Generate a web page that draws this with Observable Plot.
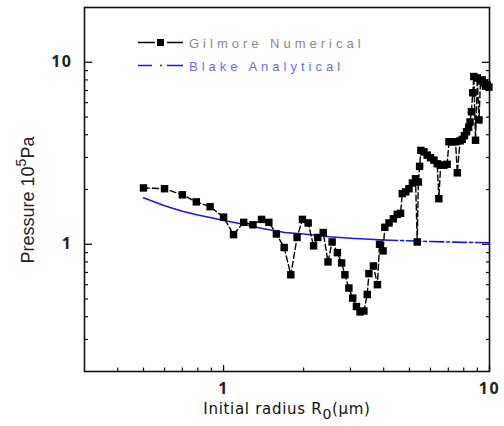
<!DOCTYPE html>
<html><head><meta charset="utf-8">
<script src="https://cdn.jsdelivr.net/npm/d3@7"></script>
<script src="https://cdn.jsdelivr.net/npm/@observablehq/plot@0.6"></script>
<style>
body{margin:0;background:#fff;}
#wrap{position:relative;width:504px;height:426px;overflow:hidden;font-family:Arial,"Liberation Sans",sans-serif;}
#wrap svg.plot{position:absolute;left:0;top:0;}
.xlab{position:absolute;left:0;width:574px;top:400px;text-align:center;font-family:"DejaVu Sans",sans-serif;font-size:15px;color:#111;letter-spacing:0.7px;white-space:nowrap;}
.ylab{position:absolute;left:28px;top:200px;transform:translate(-50%,-50%) rotate(-90deg);font-family:Arial,"Liberation Sans",sans-serif;font-size:18px;color:#222;white-space:nowrap;transform-origin:center;}
.ylab sup{font-size:14px;vertical-align:8px;line-height:0;}
.xlab sub{font-size:14px;vertical-align:-5px;line-height:0;}
.legend{position:absolute;left:0;top:0;}
</style></head><body><div id="wrap"></div>
<script>
// Gilmore numerical (squares, dashed line)
const gilmoreR = [0.50,0.60,0.70,0.79,0.89,1.00,1.09,1.19,1.29,1.39,1.48,1.58,1.69,1.79,1.89,1.98,2.08,2.18,2.26,2.37,2.47,2.56,2.68,2.78,2.86,2.96,3.06,3.16,3.26,3.37,3.47,3.52,3.66,3.79,3.86,3.98,4.04,4.19,4.35,4.50,4.63,4.70,4.84,4.98,5.13,5.27,5.35,5.40,5.46,5.52,5.67,5.83,6.00,6.18,6.36,6.45,6.55,6.73,6.93,7.04,7.25,7.45,7.57,7.75,7.90,8.05,8.20,8.35,8.45,8.55,8.65,8.73,8.86,9.00,9.13,9.25,9.39,9.55,9.66,9.80,9.95];
const gilmoreP = [2.04,2.02,1.87,1.71,1.61,1.41,1.13,1.32,1.28,1.37,1.32,1.14,0.96,0.68,1.09,1.37,1.31,0.98,1.09,1.16,0.80,1.03,0.90,0.79,0.68,0.575,0.506,0.455,0.425,0.43,0.53,0.69,0.76,0.60,1.00,0.92,1.24,1.31,1.38,1.46,1.48,1.90,1.94,2.02,2.17,2.29,1.03,2.20,2.68,3.28,3.22,3.09,2.99,2.90,2.77,1.78,2.72,2.72,2.75,3.66,3.66,3.66,2.47,3.70,3.77,3.95,4.15,4.40,4.70,5.35,6.80,8.35,3.73,8.20,4.82,7.90,8.00,7.70,7.40,7.50,7.30];
// Blake analytical (blue line)
const blakeR = [0.5,0.6,0.7,0.8,0.9,1.0,1.15,1.4,1.7,2.0,2.5,3.0,4.0,5.0,6.0,8.0,10.0];
const blakeP = [1.80,1.63,1.52,1.45,1.40,1.35,1.30,1.22,1.16,1.14,1.10,1.08,1.055,1.045,1.035,1.025,1.02];
// ticks
const xMajor = [1,10];
const xMinor = [0.4,0.5,0.6,0.7,0.8,0.9,2,3,4,5,6,7,8,9];
const yMajor = [1,10];
const yMinor = [0.3,0.4,0.5,0.6,0.7,0.8,0.9,2,3,4,5,6,7,8,9];
const xDomain = [0.3,10];
const yDomain = [0.2,20];
const blakeSplit = 4;

const gilmore = gilmoreR.map((r,i)=>({r, p:gilmoreP[i]}));
const blake = blakeR.map((r,i)=>({r, p:blakeP[i]}));

const axisCol = "#111";
const chart = Plot.plot({
  width:504, height:426,
  marginLeft:84, marginRight:15, marginTop:7, marginBottom:55,
  x:{type:"log", domain:xDomain},
  y:{type:"log", domain:yDomain},
  style:{background:"transparent", overflow:"visible"},
  marks:[
    Plot.axisX(xMajor,{anchor:"bottom", tickSize:-6, fill:"none", stroke:axisCol, strokeWidth:1.3, label:null}),
    Plot.axisX(xMinor,{anchor:"bottom", tickSize:-3.5, fill:"none", stroke:axisCol, strokeWidth:1.2, label:null}),
    Plot.axisX(xMajor,{anchor:"bottom", tickSize:0, stroke:"none", tickPadding:11, tickFormat:d=>String(d), fill:"#222", fontSize:16, fontWeight:"bold", label:null}),
    Plot.axisY(yMajor,{anchor:"left", tickSize:-8, fill:"none", stroke:axisCol, strokeWidth:1.3, label:null}),
    Plot.axisY(yMinor,{anchor:"left", tickSize:-4, fill:"none", stroke:axisCol, strokeWidth:1.2, label:null}),
    Plot.axisY(yMajor,{anchor:"right", tickSize:-8, fill:"none", stroke:axisCol, strokeWidth:1.3, label:null}),
    Plot.axisY(yMinor,{anchor:"right", tickSize:-4, fill:"none", stroke:axisCol, strokeWidth:1.2, label:null}),
    Plot.axisY(yMajor,{anchor:"left", tickSize:0, stroke:"none", tickPadding:12, tickFormat:d=>String(d), fill:"#222", fontSize:16, fontWeight:"bold", label:null}),
    Plot.line(blake.filter(d=>d.r<=blakeSplit),{x:"r", y:"p", stroke:"#1515ff", strokeWidth:1.6}),
    Plot.line(blake.filter(d=>d.r>=blakeSplit),{x:"r", y:"p", stroke:"#1515ff", strokeWidth:1.6, strokeDasharray:"14,3,3,3"}),
    Plot.line(gilmore,{x:"r", y:"p", stroke:"#000", strokeWidth:1.4, strokeDasharray:"6,3"}),
    Plot.dot(gilmore,{x:"r", y:"p", symbol:"square", r:4.2, fill:"#000", stroke:"none"}),
    Plot.frame({stroke:axisCol, strokeWidth:1.6})
  ]
});
chart.classList.add("plot");
const wrap = document.getElementById("wrap");
wrap.appendChild(chart);
chart.querySelectorAll('g[aria-label="x-axis tick label"] text, g[aria-label="y-axis tick label"] text').forEach(t=>t.setAttribute("letter-spacing","1.5"));

// axis titles
const xl = document.createElement("div");
xl.className="xlab";
xl.innerHTML = "Initial radius R<sub>0</sub>(&mu;m)";
wrap.appendChild(xl);
const yl = document.createElement("div");
yl.className="ylab";
yl.innerHTML = "Pressure 10<sup>5</sup>Pa";
wrap.appendChild(yl);

// legend
const ns="http://www.w3.org/2000/svg";
const lg = document.createElementNS(ns,"svg");
lg.setAttribute("class","legend");
lg.setAttribute("width","504"); lg.setAttribute("height","426");
lg.innerHTML = `
<line x1="138" y1="42.5" x2="155" y2="42.5" stroke="#000" stroke-width="1.5"/>
<rect x="157" y="39" width="7" height="7" fill="#000"/>
<line x1="167" y1="42.5" x2="183" y2="42.5" stroke="#000" stroke-width="1.5"/>
<text x="189" y="47.5" font-family="Arial, Liberation Sans, sans-serif" font-size="13" letter-spacing="4" fill="#8a8a8a">Gilmore Numerical</text>
<line x1="138" y1="65.5" x2="152" y2="65.5" stroke="#1515ff" stroke-width="1.5"/>
<line x1="160" y1="65.5" x2="162" y2="65.5" stroke="#1515ff" stroke-width="1.5"/>
<line x1="167" y1="65.5" x2="183" y2="65.5" stroke="#1515ff" stroke-width="1.5"/>
<text x="189" y="70.5" font-family="Arial, Liberation Sans, sans-serif" font-size="13" letter-spacing="4" fill="#6a6aff">Blake Analytical</text>`;
wrap.appendChild(lg);
</script></body></html>
